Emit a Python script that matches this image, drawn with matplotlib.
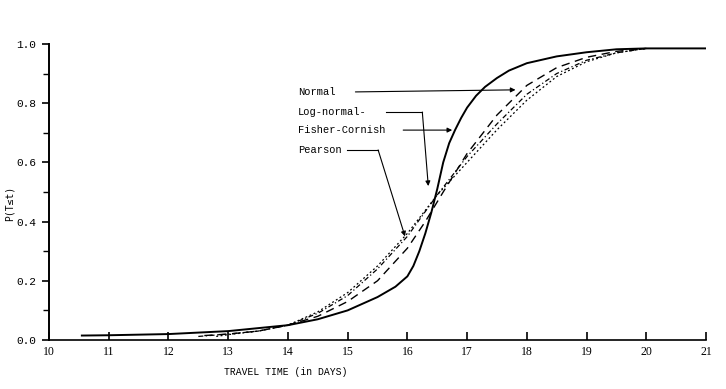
import matplotlib
matplotlib.use("Agg")
import matplotlib.pyplot as plt

# Solid curve (Fisher-Cornish)
fc_x = [10.55, 11, 12, 13, 14, 14.5, 15, 15.5, 15.8, 16, 16.1, 16.2, 16.3, 16.4, 16.5, 16.6, 16.7, 16.8, 16.9, 17, 17.15, 17.3, 17.5, 17.7, 18, 18.5, 19, 19.5, 20, 21]
fc_y = [0.015, 0.016, 0.02, 0.03, 0.05, 0.07, 0.10, 0.145, 0.18, 0.215, 0.25, 0.30, 0.36, 0.43, 0.51, 0.60, 0.665, 0.71, 0.75, 0.785, 0.825, 0.855, 0.885, 0.91, 0.935, 0.958, 0.972, 0.982, 0.985, 0.985]
# Long dashed (Normal)
nm_x = [12.6, 13, 13.5, 14, 14.5, 15, 15.5, 16, 16.3, 16.6, 17, 17.5, 18, 18.5, 19, 19.5, 20]
nm_y = [0.015, 0.02, 0.03, 0.05, 0.08, 0.13, 0.20, 0.31, 0.40, 0.50, 0.63, 0.76, 0.86, 0.92, 0.955, 0.975, 0.985]
# Dash-dot (Log-normal)
ln_x = [12.5, 13, 13.5, 14, 14.5, 15, 15.5, 16, 16.5, 17, 17.5, 18, 18.5, 19, 19.5, 20]
ln_y = [0.012, 0.02, 0.03, 0.05, 0.09, 0.15, 0.24, 0.35, 0.49, 0.62, 0.73, 0.83, 0.90, 0.945, 0.97, 0.985]
# Dotted (Pearson)
ps_x = [12.8, 13, 13.5, 14, 14.5, 15, 15.5, 16, 16.5, 17, 17.5, 18, 18.5, 19, 19.5, 20]
ps_y = [0.012, 0.018, 0.03, 0.05, 0.095, 0.16, 0.25, 0.36, 0.49, 0.60, 0.71, 0.81, 0.89, 0.94, 0.97, 0.985]

x_ticks = [10, 11, 12, 13, 14, 15, 16, 17, 18, 19, 20, 21]
y_ticks = [0.0, 0.2, 0.4, 0.6, 0.8, 1.0]

fig = plt.figure(figsize=(7.26, 3.89), dpi=100)
ax = fig.add_axes([0.0675, 0.126, 0.905, 0.761])

ax.plot(fc_x, fc_y, color="black", lw=1.4, ls="-")
ax.plot(nm_x, nm_y, color="black", lw=1.0, ls=(0, (6, 4)))
ax.plot(ln_x, ln_y, color="black", lw=0.9, ls=(0, (4, 2, 1, 2)))
ax.plot(ps_x, ps_y, color="black", lw=0.9, ls=(0, (1.5, 2)))

ax.set_xlim(10, 21)
ax.set_ylim(0, 1.0)
ax.set_xticks(x_ticks)
ax.set_xticklabels([str(v) for v in x_ticks], family="Liberation Serif", fontsize=8.5)
ax.set_yticks(y_ticks)
ax.set_yticklabels(["%.1f" % v for v in y_ticks], family="Liberation Mono", fontsize=8)
ax.set_yticks([0.1, 0.3, 0.5, 0.7, 0.9], minor=True)
ax.tick_params(axis="x", direction="in", length=6, width=1.2, pad=4)
ax.tick_params(axis="y", direction="out", length=5, width=1.2, pad=4)
ax.tick_params(axis="y", which="minor", direction="out", length=4, width=1.0)
for s in ["top", "right"]:
    ax.spines[s].set_visible(False)
ax.spines["left"].set_linewidth(1.4)
ax.spines["bottom"].set_linewidth(1.2)

ax.set_xlabel("TRAVEL TIME (in DAYS)", family="Liberation Mono", fontsize=7, labelpad=8)
ax.xaxis.set_label_coords(0.36, -0.09)
ax.set_ylabel("P(T\u2264t)", family="DejaVu Sans Mono", fontsize=7)
ax.yaxis.set_label_coords(-0.052, 0.46)

tf = dict(family="Liberation Mono", fontsize=7.5, va="center", ha="left")
ax.text(14.17, 0.838, "Normal", **tf)
ax.text(14.17, 0.770, "Log-normal-", **tf)
ax.text(14.17, 0.709, "Fisher-Cornish", **tf)
ax.text(14.17, 0.642, "Pearson", **tf)

ap = dict(arrowstyle="-|>", color="black", lw=0.8, mutation_scale=7, shrinkA=0, shrinkB=0)
ax.annotate("", xy=(17.81, 0.845), xytext=(15.13, 0.838), arrowprops=ap)
ax.plot([15.64, 16.25], [0.770, 0.770], color="black", lw=0.8)
ax.annotate("", xy=(16.35, 0.52), xytext=(16.25, 0.770), arrowprops=ap)
ax.annotate("", xy=(16.75, 0.709), xytext=(15.93, 0.709), arrowprops=ap)
ax.plot([14.99, 15.51], [0.642, 0.642], color="black", lw=0.8)
ax.annotate("", xy=(15.96, 0.35), xytext=(15.51, 0.642), arrowprops=ap)

fig.savefig("out.png", dpi=100)
